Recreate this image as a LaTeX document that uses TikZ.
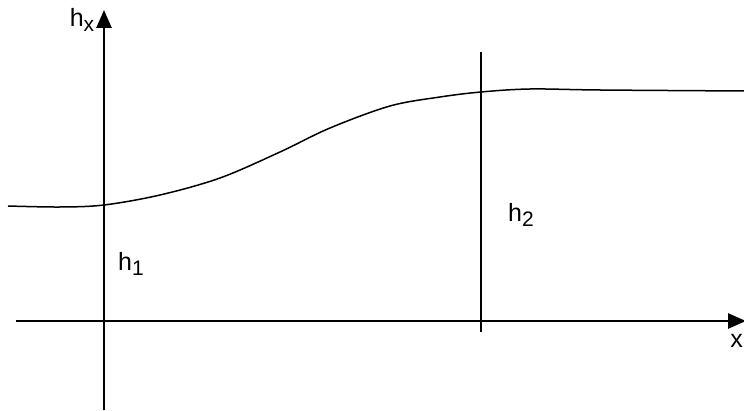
\documentclass[tikz,border=0pt]{standalone}
\usepackage{fontspec}
\setmainfont{Liberation Sans}
\usetikzlibrary{arrows.meta}
\newcommand{\mysub}[1]{\raisebox{-0.35ex}{\fontsize{21}{22}\selectfont #1}}
\begin{document}
\begin{tikzpicture}[x=1pt,y=-1pt,
  axis/.style={line width=2.6pt,-{Triangle[length=18pt,width=15pt]}},
  thin line/.style={line width=1.5pt},
  lbl/.style={font=\fontsize{25}{27}\selectfont,inner sep=0pt}]
\useasboundingbox (0,0) rectangle (744,411);
\coordinate (xs) at (16,321);
\coordinate (xe) at (746,321);
\coordinate (ys) at (104,410);
\coordinate (ye) at (104,10);
\draw[axis] (xs) -- (xe);
\draw[axis] (ys) -- (ye);
\coordinate (vb) at (481,332);
\coordinate (vt) at (481,52);
\draw[line width=1.7pt] (vb) -- (vt);
\draw[thin line] plot[smooth,tension=0.55] coordinates {(8,206) (60,207) (104,205) (160,195) (220,178) (280,152) (330,128) (390,106) (440,97) (481,92) (530,89) (600,90) (744,91)};
\node[lbl] (hx) at (82,20) {h\mysub{x}};
\node[lbl] (h1) at (131,264) {h\mysub{1}};
\node[lbl] (h2) at (521,215) {h\mysub{2}};
\node[lbl,anchor=east] (xl) at (743,341) {x};
\end{tikzpicture}
\end{document}
